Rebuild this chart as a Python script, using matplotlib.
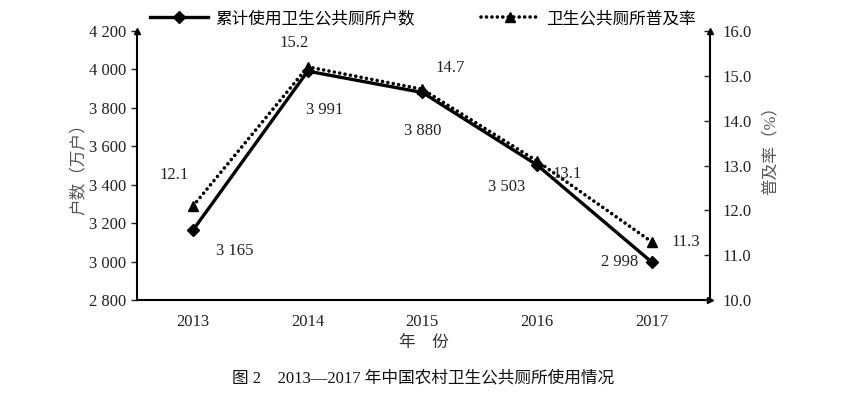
import matplotlib
matplotlib.use("Agg")
import matplotlib.pyplot as plt

plt.rcParams['font.family'] = ['Liberation Serif', 'Noto Sans CJK SC', 'DejaVu Sans']

years = ['2013', '2014', '2015', '2016', '2017']
households = [3165, 3991, 3880, 3503, 2998]
rates = [12.1, 15.2, 14.7, 13.1, 11.3]
left_ticks = [2800, 3000, 3200, 3400, 3600, 3800, 4000, 4200]
right_ticks = [10.0, 11.0, 12.0, 13.0, 14.0, 15.0, 16.0]

# label offsets in points (dx, dy)
hh_offsets = [(30, -15), (12, -28), (0, -28), (-22, -16), (-23, 0)]
rate_offsets = [(-14, 22), (-10, 17), (20, 15), (22, -9), (25, 0)]

fig = plt.figure(figsize=(8.46, 4.05), dpi=100)
ax = fig.add_axes([137/846, 1-300/405, (710-137)/846, (300-31)/405])
ax2 = ax.twinx()

x = list(range(len(years)))
l1, = ax.plot(x, households, color='black', lw=2.4, marker='D', ms=6, zorder=3)
l2, = ax2.plot(x, rates, color='black', lw=2.6, ls=(0, (0.01, 1.5)), marker='^', ms=7,
               dash_capstyle='round', zorder=3)

ax.set_xlim(-0.49, 4.51)
ax.set_ylim(2800, 4200)
ax2.set_ylim(10, 16)
ax.set_yticks(left_ticks)
ax.set_yticklabels([f"{v:,}".replace(',', ' ') for v in left_ticks])
ax2.set_yticks(right_ticks)
ax2.set_yticklabels([f"{v:.1f}" for v in right_ticks])
ax.set_xticks(x)
ax.set_xticklabels(years)

for a in (ax, ax2):
    a.spines['top'].set_visible(False)
    for s in a.spines.values():
        s.set_linewidth(1.5)
ax.spines['right'].set_visible(False)
ax2.spines['left'].set_visible(False)
ax2.spines['bottom'].set_visible(False)

ax.tick_params(axis='x', length=0, labelsize=12, pad=10, colors='#222222')
ax.tick_params(axis='y', direction='out', length=4, width=1, labelsize=12, pad=4, colors='#222222')
ax2.tick_params(axis='y', direction='in', length=4, width=1, labelsize=12, pad=9, colors='#222222')

# arrowheads
ax.plot(0, 1, marker='^', color='black', ms=5, transform=ax.transAxes, clip_on=False)
ax2.plot(1, 1, marker='^', color='black', ms=5, transform=ax2.transAxes, clip_on=False)
ax.plot(1, 0, marker='>', color='black', ms=5, transform=ax.transAxes, clip_on=False)

for i, v in enumerate(households):
    ax.annotate(f"{v:,}".replace(',', ' '), (i, v), xytext=hh_offsets[i], textcoords='offset points',
                ha='center', va='center', fontsize=12, color='#222222')
for i, v in enumerate(rates):
    ax2.annotate(f"{v:.1f}", (i, v), xytext=rate_offsets[i], textcoords='offset points',
                 ha='center', va='center', fontsize=12, color='#222222')

ax.set_ylabel('户数（万户）', fontsize=12, color='#555555')
ax.yaxis.set_label_coords(-0.087, 0.50)
ax2.set_ylabel('普及率（%）', fontsize=12, color='#555555', rotation=90)
ax2.yaxis.set_label_coords(1.091, 0.57)
ax.set_xlabel('年　份', fontsize=12, color='#333333', labelpad=4)

fig.legend([l1, l2], ['累计使用卫生公共厕所户数', '卫生公共厕所普及率'], loc='center',
           bbox_to_anchor=(423/846, 1-19/405), ncol=2, frameon=False, fontsize=12,
           handlelength=3.5, columnspacing=4, handletextpad=0.4)

fig.text(423/846, 1-378/405, '图 2　2013—2017 年中国农村卫生公共厕所使用情况',
         ha='center', va='center', fontsize=12, color='#111111')

fig.savefig('out.png', dpi=100)
